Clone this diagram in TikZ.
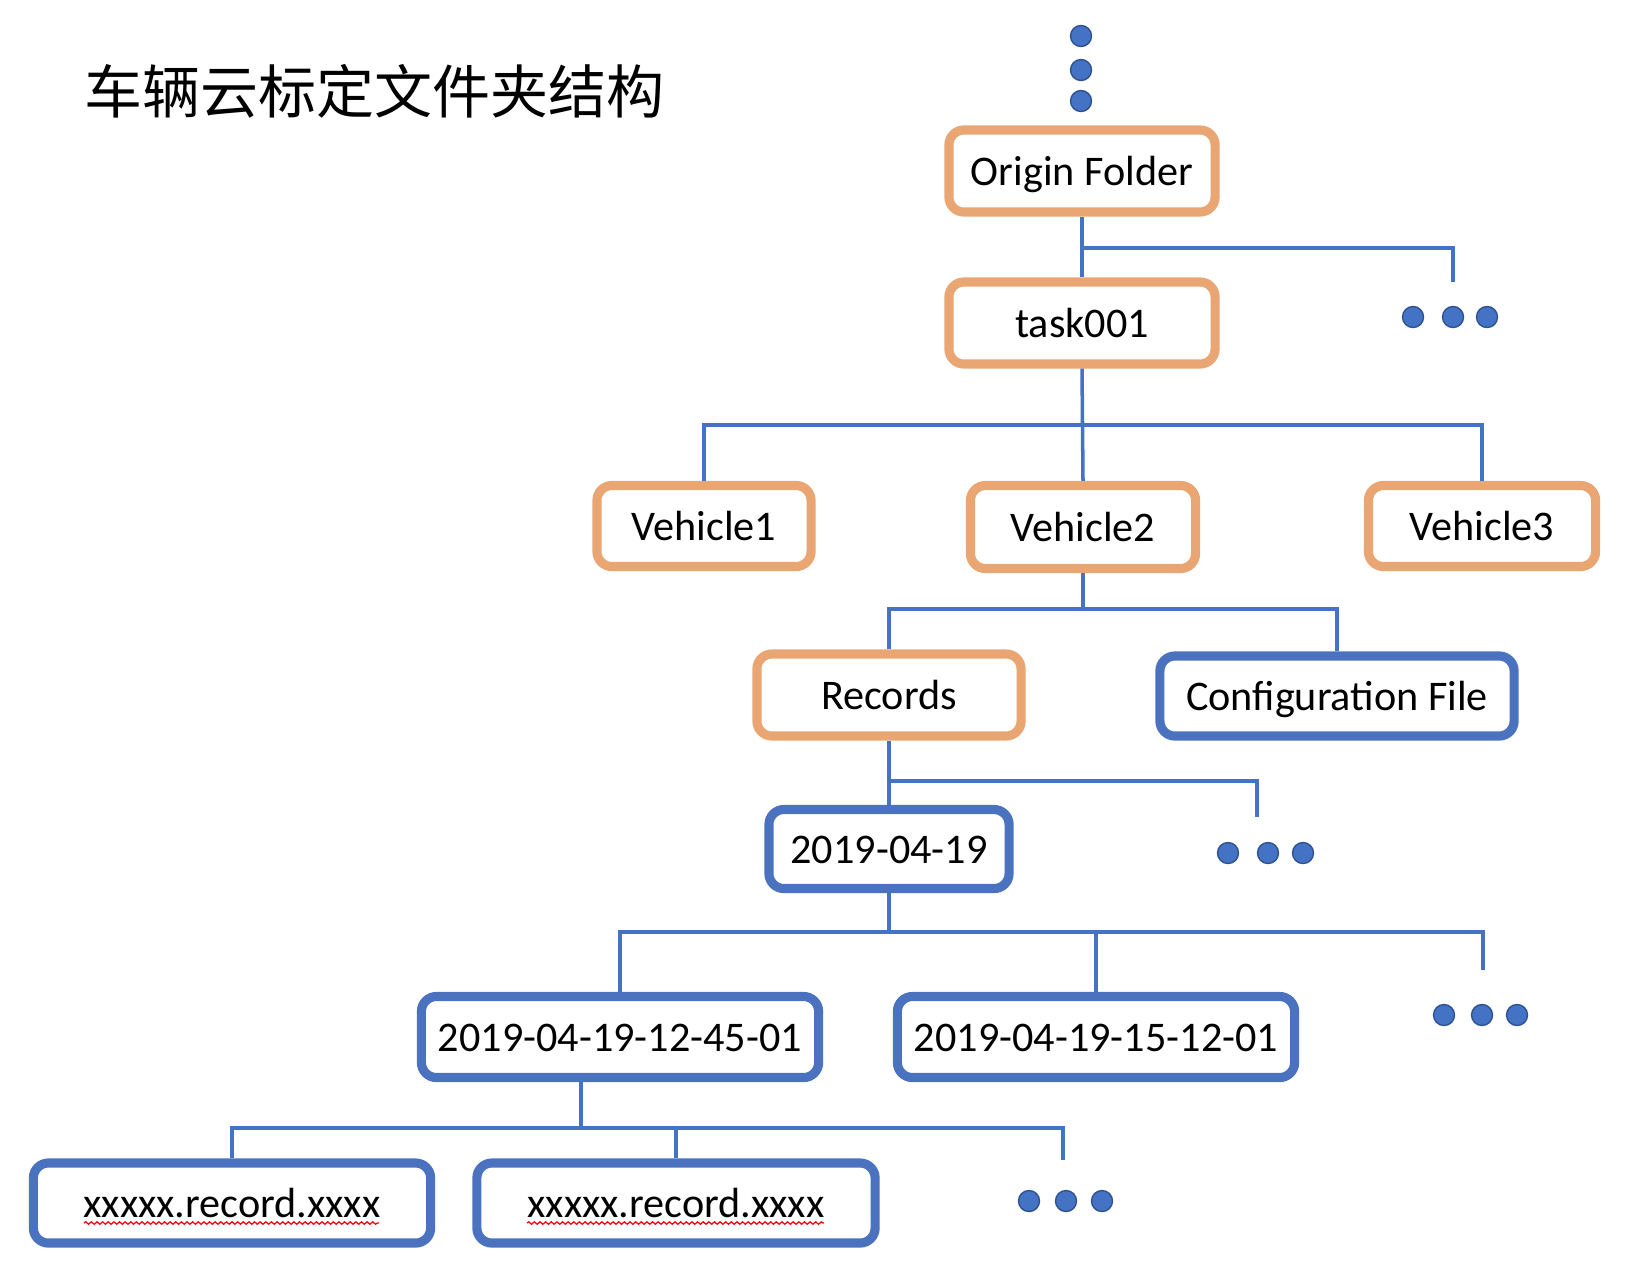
\documentclass[tikz,border=0pt]{standalone}
\usepackage{fontspec}
\setmainfont{Carlito}
\newfontfamily\cjk{Noto Sans CJK SC}
\usetikzlibrary{decorations.pathmorphing,calc}
\definecolor{borange}{HTML}{E9A673}
\definecolor{bblue}{HTML}{4A72BF}
\definecolor{lblue}{HTML}{4472C4}
\definecolor{dblue}{HTML}{2F528F}
\tikzset{
  box/.style={draw, line width=2.6pt, rounded corners=0.15cm, fill=white, inner sep=0pt,
    text height=0.33cm, text depth=0.05cm,
    font=\fontsize{12pt}{14pt}\selectfont, text=black},
  obox/.style={box, draw=borange},
  bbox/.style={box, draw=bblue},
  conn/.style={draw=lblue, line width=1pt},
  dot/.style={circle, fill=lblue, draw=dblue, line width=0.4pt, minimum size=0.21cm, inner sep=0pt},
  squig/.style={draw=red, line width=0.35pt, decorate, decoration={snake, amplitude=0.35pt, segment length=1.6pt}}
}
\begin{document}
\begin{tikzpicture}[x=0.01cm,y=-0.01cm]
\useasboundingbox (0,0) rectangle (1652,1272);
\fill[white] (0,0) rectangle (1652,1272);
% title
\node[anchor=west, inner sep=0pt, font=\cjk\fontsize{16.5pt}{18pt}\selectfont] (title) at (84,91) {车辆云标定文件夹结构};
% bus coordinates
\coordinate (b1) at (0,248);
\coordinate (b2) at (0,425);
\coordinate (b3) at (0,609);
\coordinate (b4) at (0,781);
\coordinate (b5) at (0,932);
\coordinate (b6) at (0,1128);
\coordinate (m1) at (1453,282);
\coordinate (m2) at (1257,817);
\coordinate (m3) at (1483,970);
\coordinate (m4) at (1063,1160);
% boxes
\node[obox, minimum width=2.66cm, minimum height=0.82cm] (origin) at (1082,171) {Origin Folder};
\node[obox, minimum width=2.66cm, minimum height=0.82cm] (task) at (1082,323) {task001};
\node[obox, minimum width=2.14cm, minimum height=0.81cm] (v1) at (704,526) {Vehicle1};
\node[obox, minimum width=2.25cm, minimum height=0.83cm] (v2) at (1083,527) {Vehicle2};
\node[obox, minimum width=2.27cm, minimum height=0.81cm] (v3) at (1482,526) {Vehicle3};
\node[obox, minimum width=2.64cm, minimum height=0.82cm] (rec) at (889,695) {Records};
\node[bbox, minimum width=3.54cm, minimum height=0.80cm] (cfg) at (1337,696) {Configuration File};
\node[bbox, minimum width=2.40cm, minimum height=0.79cm] (d0) at (889,849) {2019-04-19};
\node[bbox, minimum width=3.97cm, minimum height=0.81cm] (d1) at (620,1037) {2019-04-19-12-45-01};
\node[bbox, minimum width=3.97cm, minimum height=0.81cm] (d2) at (1096,1037) {2019-04-19-15-12-01};
\node[bbox, minimum width=3.97cm, minimum height=0.80cm] (f1) at (232,1203) {xxxxx.record.xxxx};
\node[bbox, minimum width=3.98cm, minimum height=0.80cm] (f2) at (676,1203) {xxxxx.record.xxxx};
% tree lines
\draw[conn] (origin.south) -- (task.north);
\draw[conn] (origin.south |- b1) -| (m1);
\draw[conn] (task.south) -- (v2.north);
\draw[conn] (v1.north) |- (b2 -| v3.north) -- (v3.north);
\draw[conn] (v2.south) -- (v2.south |- b3);
\draw[conn] (rec.north) |- (b3 -| cfg.north) -- (cfg.north);
\draw[conn] (rec.south) -- (d0.north);
\draw[conn] (rec.south |- b4) -| (m2);
\draw[conn] (d0.south) -- (d0.south |- b5);
\draw[conn] (d1.north) |- (b5 -| m3) -- (m3);
\draw[conn] (d2.north) -- (d2.north |- b5);
\draw[conn] ([xshift=-0.39cm]d1.south) -- ([xshift=-0.39cm]d1.south |- b6);
\draw[conn] (f1.north) |- (b6 -| m4) -- (m4);
\draw[conn] (f2.north) -- (f2.north |- b6);
% squiggly spell-check underlines
\draw[squig] ([shift={(-148,20)}]f1.center) -- ([shift={(147,20)}]f1.center);
\draw[squig] ([shift={(-149,20)}]f2.center) -- ([shift={(148,20)}]f2.center);
% dots
\node[dot] (t1) at (1081,36) {};
\node[dot] (t2) at (1081,70) {};
\node[dot] (t3) at (1081,101) {};
\node[dot] (a1) at (1413,317) {};
\node[dot] (a2) at (1453,317) {};
\node[dot] (a3) at (1487,317) {};
\node[dot] (c1) at (1228,853) {};
\node[dot] (c2) at (1268,853) {};
\node[dot] (c3) at (1303,853) {};
\node[dot] (e1) at (1444,1015) {};
\node[dot] (e2) at (1482,1015) {};
\node[dot] (e3) at (1517,1015) {};
\node[dot] (g1) at (1029,1201) {};
\node[dot] (g2) at (1066,1201) {};
\node[dot] (g3) at (1102,1201) {};
\end{tikzpicture}
\end{document}
